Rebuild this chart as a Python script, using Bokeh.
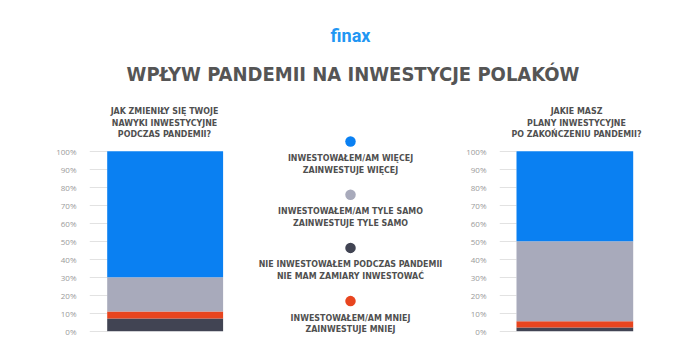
from bokeh.plotting import figure
from bokeh.layouts import column, row
from bokeh.models import Range1d, FixedTicker, PrintfTickFormatter, ColumnDataSource, Grid
from bokeh.core.properties import value
from bokeh.embed import file_html
from bokeh.resources import INLINE

# ---------------- data ----------------
brand = "finax"
main_title = "WPŁYW PANDEMII NA INWESTYCJE POLAKÓW"
questions = [
    ["JAK ZMIENIŁY SIĘ TWOJE", "NAWYKI INWESTYCYJNE", "PODCZAS PANDEMII?"],
    ["JAKIE MASZ", "PLANY INWESTYCYJNE", "PO ZAKOŃCZENIU PANDEMII?"],
]
series = ["none", "less", "same", "more"]          # stacking order, bottom -> top
during_values = [7, 4, 19, 70]                     # % per series (same order)
after_values = [2, 3.5, 44.5, 50]
legend_order = ["more", "same", "none", "less"]
legend_labels = [
    ["INWESTOWAŁEM/AM WIĘCEJ", "ZAINWESTUJE WIĘCEJ"],
    ["INWESTOWAŁEM/AM TYLE SAMO", "ZAINWESTUJE TYLE SAMO"],
    ["NIE INWESTOWAŁEM PODCZAS PANDEMII", "NIE MAM ZAMIARY INWESTOWAĆ"],
    ["INWESTOWAŁEM/AM MNIEJ", "ZAINWESTUJE MNIEJ"],
]
y_ticks = [0, 10, 20, 30, 40, 50, 60, 70, 80, 90, 100]

# ---------------- style ----------------
colors = {"more": "#0A80F2", "same": "#A8AABB", "none": "#414453", "less": "#E8451F"}
TXT = "#505050"
COND = "DejaVu Sans Condensed, Roboto, sans-serif"
Y0_PX, PX_PER_PCT = 330.7, 1.8           # page px of 0 %, px per %
TOP_PX, BOT_PX = 100, 352


def chart(vals, title_lines, fig_left, fig_width, frame_left, frame_right,
          bar_left, bar_right, title_cx):
    scale = bar_right - bar_left
    center = (bar_left + bar_right) / 2
    xs = (frame_left - center) / scale
    xe = (frame_right - center) / scale
    ys = -(BOT_PX - Y0_PX) / PX_PER_PCT
    ye = (Y0_PX - TOP_PX) / PX_PER_PCT
    p = figure(width=fig_width, height=BOT_PX - TOP_PX,
               x_range=Range1d(xs, xe), y_range=Range1d(ys, ye),
               x_axis_type=None,
               min_border_left=frame_left - fig_left,
               min_border_right=fig_left + fig_width - frame_right,
               min_border_top=0, min_border_bottom=0,
               output_backend="svg", toolbar_location=None)
    p.outline_line_color = None
    p.background_fill_color = "white"
    p.border_fill_color = "white"
    ax = p.yaxis[0]
    ax.ticker = FixedTicker(ticks=y_ticks)
    ax.formatter = PrintfTickFormatter(format="%d%%")
    ax.axis_line_color = None
    ax.major_tick_line_color = None
    ax.minor_tick_line_color = None
    ax.major_label_text_font = "Open Sans"
    ax.major_label_text_font_size = "8px"
    ax.major_label_text_color = "#9A9A9A"
    ax.major_label_standoff = 7
    g = p.ygrid[0]
    g.grid_line_color = "#E2E2E2"
    g.grid_line_width = 1
    if "cross_bounds" in Grid.properties():
        g.cross_bounds = (xs, -0.5)

    data = {"x": [0]}
    for s, v in zip(series, vals):
        data[s] = [v]
    p.vbar_stack(series, x="x", width=1, source=ColumnDataSource(data),
                 color=[colors[s] for s in series], line_color=None)

    line_px = [110.7, 122.0, 133.3]
    tx = [(title_cx - center) / scale] * len(title_lines)
    ty = [(Y0_PX - py) / PX_PER_PCT for py in line_px]
    p.text(x=tx, y=ty, text=title_lines, text_align="center",
           text_baseline="middle", text_font=value(COND), text_font_style="bold",
           text_font_size="8.8px", text_color=TXT)
    return p


left = chart(during_values, questions[0], 0, 240, 89, 223, 106.7, 222.7, 164)
right = chart(after_values, questions[1], 460, 232, 499, 650, 516, 632.7, 576)

# ---------------- legend (middle) ----------------
mid = figure(width=220, height=BOT_PX - TOP_PX, x_range=Range1d(240, 460),
             y_range=Range1d(BOT_PX, TOP_PX), x_axis_type=None, y_axis_type=None,
             min_border=0, output_backend="svg", toolbar_location=None)
mid.outline_line_color = None
mid.grid.visible = False
cy = [141 + 53.2 * i for i in range(len(legend_order))]
mid.scatter(x=[350] * len(cy), y=cy, size=10.5, marker="circle",
            color=[colors[s] for s in legend_order], line_color=None)
lx, ly, lt = [], [], []
for i, (a, b) in enumerate(legend_labels):
    lx += [350, 350]
    ly += [cy[i] + 16.5, cy[i] + 28]
    lt += [a, b]
mid.text(x=lx, y=ly, text=lt, text_align="center", text_baseline="middle",
         text_font=value(COND), text_font_style="bold", text_font_size="8.8px",
         text_color=TXT)

# ---------------- header ----------------
head = figure(width=692, height=TOP_PX, x_range=Range1d(0, 692),
              y_range=Range1d(TOP_PX, 0), x_axis_type=None, y_axis_type=None,
              min_border=0, output_backend="svg", toolbar_location=None)
head.outline_line_color = None
head.grid.visible = False
head.text(x=[350], y=[35], text=[brand], text_align="center",
          text_baseline="middle", text_font=value("Roboto"),
          text_font_style="bold", text_font_size="18px", text_color="#2196F3")
head.text(x=[352.5], y=[73], text=[main_title], text_align="center",
          text_baseline="middle", text_font=value(COND),
          text_font_style="bold", text_font_size="20px", text_color="#555555")

layout = column(head, row(left, mid, right, spacing=0), spacing=0)
open("out.html", "w").write(file_html(layout, INLINE))
